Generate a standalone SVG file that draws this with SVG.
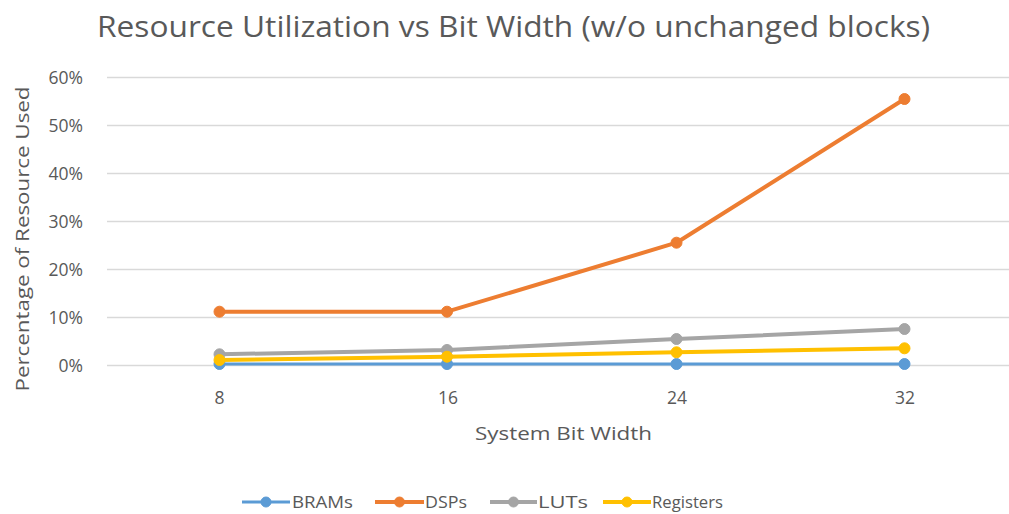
<svg xmlns="http://www.w3.org/2000/svg" width="1009" height="514" viewBox="0 0 1009 514">
  <style>
    text { font-family: "Open Sans", "Liberation Sans", sans-serif; fill: #595959; }
    .title { font-size: 29px; }
    .tick { font-size: 17.5px; }
    .axis-title { font-size: 18px; }
    .legend { font-size: 17px; }
    .grid line { stroke: #D9D9D9; stroke-width: 1.3; }
    .series { fill: none; stroke-linejoin: round; stroke-linecap: round; }
    .bram { stroke: #5B9BD5; fill: #5B9BD5; }
    .dsp { stroke: #ED7D31; fill: #ED7D31; }
    .lut { stroke: #A5A5A5; fill: #A5A5A5; }
    .reg { stroke: #FFC000; fill: #FFC000; }
  </style>

  <rect width="1009" height="514" fill="#FFFFFF"/>

  <!-- chart title -->
  <text class="title" x="97" y="37" textLength="833" lengthAdjust="spacingAndGlyphs">Resource Utilization vs Bit Width (w/o unchanged blocks)</text>

  <!-- horizontal gridlines, 0% to 60% -->
  <g class="grid">
    <line x1="107" y1="77.5" x2="1009" y2="77.5"/>
    <line x1="107" y1="125.5" x2="1009" y2="125.5"/>
    <line x1="107" y1="173.5" x2="1009" y2="173.5"/>
    <line x1="107" y1="221.5" x2="1009" y2="221.5"/>
    <line x1="107" y1="269.5" x2="1009" y2="269.5"/>
    <line x1="107" y1="317.5" x2="1009" y2="317.5"/>
    <line x1="107" y1="365.5" x2="1009" y2="365.5"/>
  </g>

  <!-- value axis labels -->
  <g class="tick" text-anchor="end">
    <text x="83" y="83.5">60%</text>
    <text x="83" y="131.5">50%</text>
    <text x="83" y="179.5">40%</text>
    <text x="83" y="227.5">30%</text>
    <text x="83" y="275.5">20%</text>
    <text x="83" y="323.5">10%</text>
    <text x="83" y="371.5">0%</text>
  </g>

  <!-- category axis labels -->
  <g class="tick" text-anchor="middle">
    <text x="219.5" y="404">8</text>
    <text x="448" y="404">16</text>
    <text x="677" y="404">24</text>
    <text x="905" y="404">32</text>
  </g>

  <!-- axis titles -->
  <text class="axis-title" x="563.5" y="440" text-anchor="middle" textLength="177" lengthAdjust="spacingAndGlyphs">System Bit Width</text>
  <text class="axis-title" transform="translate(29 239) rotate(-90)" text-anchor="middle" textLength="305" lengthAdjust="spacingAndGlyphs">Percentage of Resource Used</text>

  <!-- data series -->
  <g id="connectors">
    <polyline id="line-brams" class="series bram" stroke-width="3" points="219.5,364 447,364 676.5,364 904.5,364" style="fill:none"/>
    <polyline id="line-dsps" class="series dsp" stroke-width="4" points="219.5,311.7 447,311.7 676.5,242.7 904.5,99" style="fill:none"/>
    <polyline id="line-luts" class="series lut" stroke-width="4" points="219.5,354.3 447,350 676.5,339 904.5,329" style="fill:none"/>
    <polyline id="line-registers" class="series reg" stroke-width="4" points="219.5,360 447,356.7 676.5,352.3 904.5,348.3" style="fill:none"/>
  </g>

  <g id="markers-brams" class="bram">
    <circle cx="219.5" cy="364" r="5.5"/>
    <circle cx="447" cy="364" r="5.5"/>
    <circle cx="676.5" cy="364" r="5.5"/>
    <circle cx="904.5" cy="364" r="5.5"/>
  </g>
  <g id="markers-dsps" class="dsp">
    <circle cx="219.5" cy="311.7" r="5.5"/>
    <circle cx="447" cy="311.7" r="5.5"/>
    <circle cx="676.5" cy="242.7" r="5.5"/>
    <circle cx="904.5" cy="99" r="5.5"/>
  </g>
  <g id="markers-luts" class="lut">
    <circle cx="219.5" cy="354.3" r="5.5"/>
    <circle cx="447" cy="350" r="5.5"/>
    <circle cx="676.5" cy="339" r="5.5"/>
    <circle cx="904.5" cy="329" r="5.5"/>
  </g>
  <g id="markers-registers" class="reg">
    <circle cx="219.5" cy="360" r="5.5"/>
    <circle cx="447" cy="356.7" r="5.5"/>
    <circle cx="676.5" cy="352.3" r="5.5"/>
    <circle cx="904.5" cy="348.3" r="5.5"/>
  </g>

  <!-- legend -->
  <g id="legend">
    <g id="legend-brams">
      <line class="bram" x1="242" y1="502" x2="290" y2="502" stroke-width="3"/>
      <circle class="bram" cx="266" cy="502" r="5"/>
      <text class="legend" x="292" y="508" textLength="61" lengthAdjust="spacingAndGlyphs">BRAMs</text>
    </g>
    <g id="legend-dsps">
      <line class="dsp" x1="375" y1="502" x2="424" y2="502" stroke-width="4"/>
      <circle class="dsp" cx="399.5" cy="502" r="5"/>
      <text class="legend" x="425" y="508" textLength="42" lengthAdjust="spacingAndGlyphs">DSPs</text>
    </g>
    <g id="legend-luts">
      <line class="lut" x1="490" y1="502" x2="537" y2="502" stroke-width="4"/>
      <circle class="lut" cx="513.5" cy="502" r="5"/>
      <text class="legend" x="538" y="508" textLength="50" lengthAdjust="spacingAndGlyphs">LUTs</text>
    </g>
    <g id="legend-registers">
      <line class="reg" x1="603" y1="502" x2="651" y2="502" stroke-width="4"/>
      <circle class="reg" cx="627" cy="502" r="5"/>
      <text class="legend" x="652" y="508" textLength="71" lengthAdjust="spacingAndGlyphs">Registers</text>
    </g>
  </g>
</svg>
